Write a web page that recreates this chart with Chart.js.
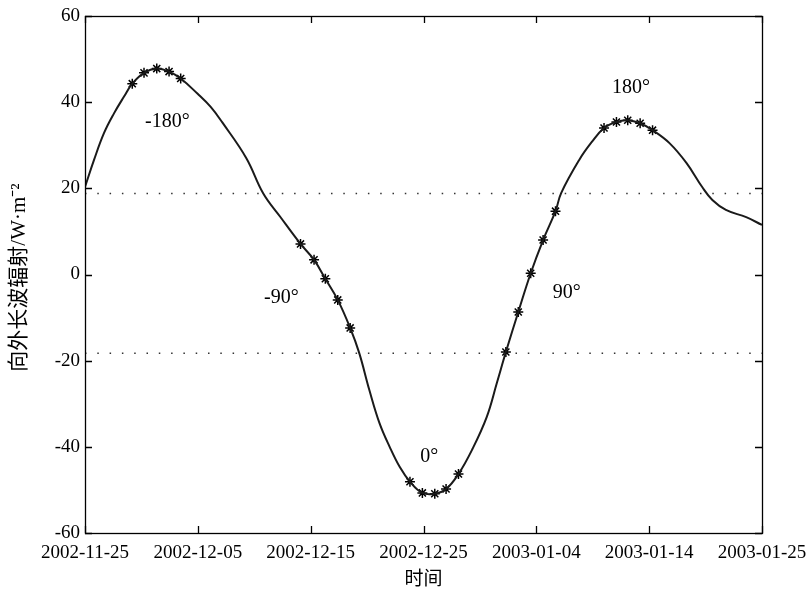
<!DOCTYPE html>
<html lang="zh">
<head>
<meta charset="UTF-8">
<title>向外长波辐射</title>
<style>
  html, body { margin: 0; padding: 0; background: #fff; }
  #wrap { width: 812px; height: 593px; }
</style>
</head>
<body>
<div id="wrap">
  <canvas id="myChart" width="812" height="593"></canvas>
</div>
<script src="https://cdn.jsdelivr.net/npm/chart.js"></script>
<script>
  // days since 2002-11-25
  const curveDays = [0, 0.8, 1.68, 2.57, 3.46, 4.19, 5.23, 6.36, 7.45, 8.48, 9.96, 11.14, 12.17, 14.3, 15.8, 17.3, 19.1,
    20.3, 21.3, 22.4, 23.5, 24.3, 25.2, 26.1, 27.0, 27.9, 28.8, 29.9, 31.0, 32.0, 33.1, 34.3, 35.6, 36.5,
    37.3, 38.4, 39.5, 40.6, 41.7, 42.2, 43.8, 44.9, 46.0, 47.1, 48.1, 49.2, 50.3, 51.8, 53.3, 54.7, 55.6,
    56.8, 58.6, 60];
  const curveOlr = [20.3, 26.6, 32.8, 37.4, 41.3, 44.3, 46.8, 47.8, 47.1, 45.5, 42.0, 38.9, 35.3, 27.0, 18.8, 13.4, 7.1,
    3.4, -1.0, -5.9, -12.4, -18.2, -26.8, -34.5, -40.0, -44.7, -48.1, -50.7, -50.9, -49.8, -46.3, -40.7, -33.1, -25.2,
    -18.0, -8.7, 0.3, 8.0, 14.7, 18.9, 26.6, 30.7, 34.0, 35.4, 35.8, 35.1, 33.5, 30.5, 25.9, 20.3, 17.3,
    15.0, 13.3, 11.5];

  const markDays = [4.19, 5.23, 6.36, 7.45, 8.48, 19.1, 20.3, 21.3, 22.4, 23.5, 28.8, 29.9, 31.0, 32.0, 33.1,
    37.3, 38.4, 39.5, 40.6, 41.7, 46.0, 47.1, 48.1, 49.2, 50.3];
  const markOlr = [44.3, 46.8, 47.8, 47.1, 45.5, 7.1, 3.4, -1.0, -5.9, -12.4, -48.1, -50.7, -50.9, -49.8, -46.3,
    -18.0, -8.7, 0.3, 8.0, 14.7, 34.0, 35.4, 35.8, 35.1, 33.5];

  const upperLine = 18.8;
  const lowerLine = -18.3;

  const phaseText = ['-180°', '-90°', '0°', '90°', '180°'];
  const phaseDays = [7.3, 17.4, 30.5, 42.7, 48.4];
  const phaseOlr = [35.4, -5.5, -42.2, -4.3, 43.3];

  const xTickDays = [0, 10, 20, 30, 40, 50, 60];
  const xTickLabels = ['2002-11-25', '2002-12-05', '2002-12-15', '2002-12-25', '2003-01-04', '2003-01-14', '2003-01-25'];
  const yTicks = [-60, -40, -20, 0, 20, 40, 60];

  const serif = '"Liberation Serif", "Noto Sans CJK SC", serif';

  function pts(xs, ys) {
    return xs.map((x, i) => ({x: x, y: ys[i]}));
  }

  const framePlugin = {
    id: 'frame',
    afterDraw(chart) {
      const c = chart.ctx, a = chart.chartArea;
      const xs = chart.scales.x, ys = chart.scales.y;
      c.save();
      c.strokeStyle = '#000';
      c.lineWidth = 1.3;
      c.strokeRect(a.left + 0.5, a.top + 0.5, a.right - a.left, a.bottom - a.top);
      c.beginPath();
      xTickDays.forEach(d => {
        const px = Math.round(xs.getPixelForValue(d)) + 0.5;
        c.moveTo(px, a.bottom); c.lineTo(px, a.bottom - 7);
        c.moveTo(px, a.top); c.lineTo(px, a.top + 7);
      });
      yTicks.forEach(v => {
        const py = Math.round(ys.getPixelForValue(v)) + 0.5;
        c.moveTo(a.left, py); c.lineTo(a.left + 7, py);
        c.moveTo(a.right, py); c.lineTo(a.right - 7, py);
      });
      c.stroke();

      // phase labels
      c.fillStyle = '#000';
      c.font = '20px ' + serif;
      c.textAlign = 'center';
      c.textBaseline = 'middle';
      phaseText.forEach((t, i) => {
        c.fillText(t, xs.getPixelForValue(phaseDays[i]), ys.getPixelForValue(phaseOlr[i]));
      });

      // axis titles
      c.font = '19px ' + serif;
      c.fillText('时间', (a.left + a.right) / 2, 580);
      c.save();
      c.translate(19, (a.top + a.bottom) / 2 + 3);
      c.rotate(-Math.PI / 2);
      c.font = '21px ' + serif;
      c.fillText('向外长波辐射/W·m⁻²', 0, 0);
      c.restore();
      c.restore();
    }
  };

  const ctx = document.getElementById('myChart');
  const myChart = new Chart(ctx, {
    type: 'scatter',
    data: {
      datasets: [
        {
          data: pts([0, 60], [upperLine, upperLine]),
          showLine: true,
          borderColor: '#333',
          borderWidth: 1.5,
          borderDash: [1.5, 10.8],
          pointRadius: 0
        },
        {
          data: pts([0, 60], [lowerLine, lowerLine]),
          showLine: true,
          borderColor: '#333',
          borderWidth: 1.5,
          borderDash: [1.5, 10.8],
          pointRadius: 0
        },
        {
          data: pts(curveDays, curveOlr),
          showLine: true,
          borderColor: '#1a1a1a',
          borderWidth: 2,
          tension: 0.4,
          pointRadius: 0
        },
        {
          data: pts(markDays, markOlr),
          showLine: false,
          pointStyle: 'star',
          pointRadius: 5,
          borderColor: '#000',
          borderWidth: 1.5,
          backgroundColor: '#000'
        }
      ]
    },
    options: {
      responsive: false,
      animation: false,
      events: [],
      layout: { padding: { top: 16, right: 50, left: 0, bottom: 0 } },
      plugins: { legend: { display: false }, tooltip: { enabled: false } },
      scales: {
        x: {
          type: 'linear',
          min: 0,
          max: 60,
          afterBuildTicks(s) { s.ticks = xTickDays.map(v => ({value: v})); },
          afterFit(s) { s.height = 60; s.paddingLeft = 0; s.paddingRight = 0; },
          grid: { display: false, drawTicks: false },
          border: { display: false },
          ticks: {
            color: '#000',
            padding: 9,
            maxRotation: 0,
            autoSkip: false,
            font: { family: serif, size: 19 },
            callback: (v) => xTickLabels[xTickDays.indexOf(v)]
          }
        },
        y: {
          min: -60,
          max: 60,
          afterBuildTicks(s) { s.ticks = yTicks.map(v => ({value: v})); },
          afterFit(s) { s.width = 85; s.paddingTop = 0; s.paddingBottom = 0; },
          grid: { display: false, drawTicks: false },
          border: { display: false },
          ticks: {
            color: '#000',
            padding: 5,
            font: { family: serif, size: 19 }
          }
        }
      }
    },
    plugins: [framePlugin]
  });
</script>
</body>
</html>
